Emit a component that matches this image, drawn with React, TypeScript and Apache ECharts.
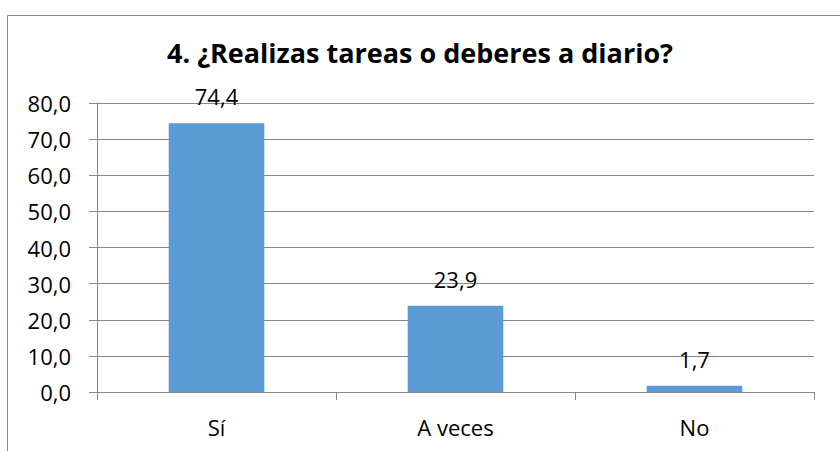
import React, { useEffect, useRef } from "react";
import * as echarts from "echarts";

const title = "4. ¿Realizas tareas o deberes a diario?";
const categories = ["Sí", "A veces", "No"];
const values = [74.4, 23.9, 1.7];
const yMin = 0;
const yMax = 80;
const yStep = 10;

const fmt = (v: number) => v.toFixed(1).replace(".", ",");
const FONT = "Open Sans";

export default function App() {
  const ref = useRef<HTMLDivElement>(null);
  useEffect(() => {
    if (!ref.current) return;
    const chart = echarts.init(ref.current, null, { renderer: "svg" });
    chart.setOption({
      animation: false,
      backgroundColor: "#ffffff",
      textStyle: { fontFamily: FONT },
      title: {
        text: title,
        left: "center",
        top: 34,
        textStyle: { fontFamily: FONT, fontWeight: "bold", fontSize: 27, color: "#000" },
      },
      graphic: [
        {
          type: "rect",
          shape: { x: 7.5, y: 15.5, width: 900, height: 500 },
          style: { fill: "none", stroke: "#878787", lineWidth: 1 },
          silent: true,
        },
      ],
      grid: { left: 97, right: 26, top: 103, bottom: 59 },
      xAxis: {
        type: "category",
        data: categories,
        axisLine: { lineStyle: { color: "#878787" } },
        axisTick: { show: true, length: 8, lineStyle: { color: "#878787" } },
        axisLabel: { color: "#000", fontSize: 22, fontFamily: FONT, margin: 24 },
      },
      yAxis: {
        type: "value",
        min: yMin,
        max: yMax,
        interval: yStep,
        axisLine: { show: true, lineStyle: { color: "#878787" } },
        axisTick: { show: true, length: 8, lineStyle: { color: "#878787" } },
        splitLine: { lineStyle: { color: "#878787" } },
        axisLabel: { color: "#000", fontSize: 22, fontFamily: FONT, margin: 26, formatter: (v: number) => fmt(v) },
      },
      series: [
        {
          type: "bar",
          data: values,
          barWidth: "40%",
          itemStyle: { color: "#5B9BD5" },
          label: {
            show: true,
            position: "top",
            distance: 16,
            color: "#000",
            fontSize: 22,
            fontFamily: FONT,
            formatter: (p: any) => fmt(p.value),
          },
        },
      ],
    });
    return () => chart.dispose();
  }, []);
  return (
    <div
      ref={ref}
      style={{ position: "fixed", left: 0, top: 0, width: 840, height: 451 }}
    />
  );
}
